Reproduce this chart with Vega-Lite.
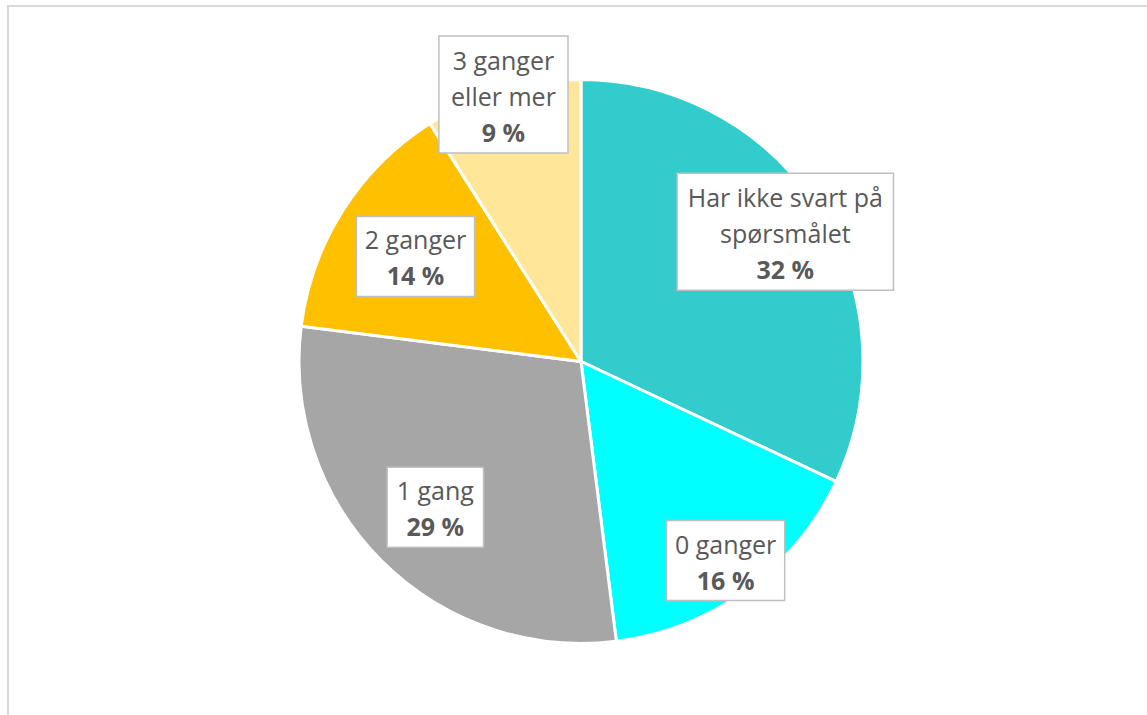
{
  "$schema": "https://vega.github.io/schema/vega-lite/v6.json",
  "width": 1147,
  "height": 715,
  "autosize": {"type": "fit", "contains": "padding"},
  "padding": {"left": 8, "top": 6, "right": -3, "bottom": -3},
  "background": "white",
  "config": {"view": {"stroke": "#D9D9D9", "strokeWidth": 2}, "font": "Open Sans"},
  "data": {
    "values": [
      {"nr": 1, "kategori": "Har ikke svart på\nspørsmålet", "andel": 32},
      {"nr": 2, "kategori": "0 ganger", "andel": 16},
      {"nr": 3, "kategori": "1 gang", "andel": 29},
      {"nr": 4, "kategori": "2 ganger", "andel": 14},
      {"nr": 5, "kategori": "3 ganger\neller mer", "andel": 9}
    ]
  },
  "transform": [
    {"window": [{"op": "sum", "field": "andel", "as": "kum"}], "sort": [{"field": "nr", "order": "ascending"}], "frame": [null, 0]},
    {"joinaggregate": [{"op": "sum", "field": "andel", "as": "total"}]},
    {"calculate": "(datum.kum - datum.andel / 2) / datum.total * 2 * PI", "as": "midt"},
    {"calculate": "[242, 246, 206, 196, 278][datum.nr - 1]", "as": "r"},
    {"calculate": "datum.r * sin(datum.midt)", "as": "lx"},
    {"calculate": "datum.r * cos(datum.midt)", "as": "ly"},
    {"calculate": "split(datum.kategori, '\\n')", "as": "linjer"},
    {"calculate": "length(datum.linjer) + 1", "as": "n"},
    {"calculate": "length(datum.linjer) > 1 ? max(length(datum.linjer[0]), length(datum.linjer[1])) : length(datum.linjer[0])", "as": "maxlen"},
    {"calculate": "10.9 * datum.maxlen + 31", "as": "w"},
    {"calculate": "37 * datum.n + 6", "as": "h"},
    {"calculate": "datum.lx - datum.w / 2", "as": "bx1"},
    {"calculate": "datum.lx + datum.w / 2", "as": "bx2"},
    {"calculate": "datum.ly - datum.h / 2", "as": "by1"},
    {"calculate": "datum.ly + datum.h / 2", "as": "by2"},
    {"calculate": "datum.ly + (datum.n - 1) * 18", "as": "ky"},
    {"calculate": "datum.ly - (datum.n - 1) * 18", "as": "py"},
    {"calculate": "datum.andel + ' %'", "as": "pct"}
  ],
  "layer": [
    {
      "mark": {"type": "arc", "outerRadius": 282, "stroke": "white", "strokeWidth": 3},
      "encoding": {
        "x": {"datum": 0, "type": "quantitative", "scale": {"domain": [-573, 569], "nice": false, "zero": false}, "axis": null},
        "y": {"datum": 0, "type": "quantitative", "scale": {"domain": [-356.5, 355.5], "nice": false, "zero": false}, "axis": null},
        "theta": {"field": "andel", "type": "quantitative", "stack": true},
        "order": {"field": "nr", "type": "quantitative", "sort": "ascending"},
        "color": {
          "field": "kategori",
          "type": "nominal",
          "scale": {
            "domain": ["Har ikke svart på\nspørsmålet", "0 ganger", "1 gang", "2 ganger", "3 ganger\neller mer"],
            "range": ["#33CCCC", "#00FFFF", "#A6A6A6", "#FFC000", "#FFE699"]
          },
          "legend": null
        }
      }
    },
    {
      "mark": {"type": "rect", "fill": "white", "stroke": "#BFBFBF", "strokeWidth": 1.5},
      "encoding": {
        "x": {"field": "bx1", "type": "quantitative"},
        "x2": {"field": "bx2"},
        "y": {"field": "by1", "type": "quantitative"},
        "y2": {"field": "by2"}
      }
    },
    {
      "mark": {"type": "text", "font": "Open Sans", "fontSize": 25, "color": "#595959", "align": "center", "baseline": "middle", "lineBreak": "\n", "lineHeight": 36, "dy": 3},
      "encoding": {
        "x": {"field": "lx", "type": "quantitative"},
        "y": {"field": "ky", "type": "quantitative"},
        "text": {"field": "kategori"}
      }
    },
    {
      "mark": {"type": "text", "font": "Open Sans", "fontSize": 25, "fontWeight": "bold", "color": "#595959", "align": "center", "baseline": "middle", "dy": 3},
      "encoding": {
        "x": {"field": "lx", "type": "quantitative"},
        "y": {"field": "py", "type": "quantitative"},
        "text": {"field": "pct"}
      }
    }
  ]
}
